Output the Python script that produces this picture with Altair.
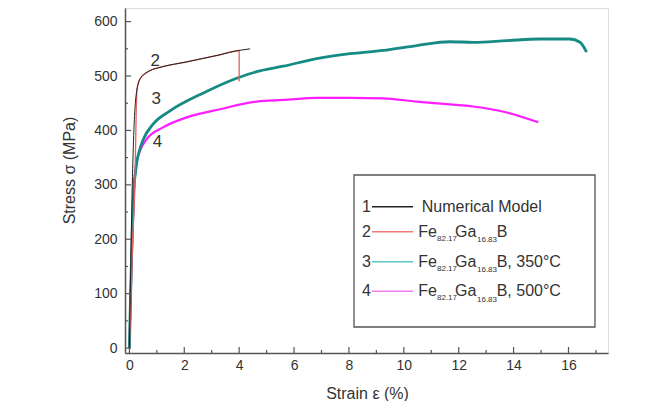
import altair as alt
import pandas as pd

# ---- data ----
model_x = [0, 0.12, 0.15, 0.18, 0.22, 0.27, 0.33, 0.42, 0.55, 0.75, 1.12, 2.09, 3.3, 4.0, 4.4]
model_y = [0, 330, 380, 420, 452, 474, 487, 497, 504, 510, 516, 526, 539, 547, 550]

base_x = [0, 0.12, 0.2, 0.23, 0.25, 0.28, 0.34, 0.45, 0.6, 0.8, 1.12, 2.09, 3.3, 4.0, 4.0]
base_y = [0, 200, 300, 380, 440, 475, 490, 499, 505, 511, 516, 526, 539, 547, 490]

t350_x = [0, 0.17, 0.22, 0.27, 0.36, 0.51, 0.87, 1.48, 2.7, 3.91, 4.64, 5.61, 6.83, 8.04,
          9.25, 10.47, 11.68, 12.53, 13.75, 14.96, 16.05, 16.42, 16.66]
t350_y = [0, 300, 322, 342, 362, 384, 412, 436, 469, 496, 508, 518, 532, 541,
          547, 556, 563, 562, 565, 568, 568, 562, 544]

t500_x = [0, 0.18, 0.22, 0.28, 0.38, 0.63, 1.24, 2.09, 3.3, 4.64, 5.61, 6.83, 8.04,
          9.25, 10.47, 11.68, 12.53, 13.75, 14.9]
t500_y = [0, 300, 328, 346, 362, 384, 406, 424, 439, 453, 456, 460, 460,
          459, 453, 448, 444, 433, 415]

curve_label = ["2", "3", "4"]
curve_label_x = [0.94, 0.98, 1.02]
curve_label_y = [528, 458, 378]

x_major = [0, 2, 4, 6, 8, 10, 12, 14, 16]
x_minor = [1, 3, 5, 7, 9, 11, 13, 15, 17]
y_major = [0, 100, 200, 300, 400, 500, 600]
y_minor = [50, 150, 250, 350, 450, 550]

legend_num = ["1", "2", "3", "4"]
legend_suffix = ["", "B", "B, 350°C", "B, 500°C"]

# ---- build tables ----
rows = []
for name, xs_, ys_ in [("model", model_x, model_y), ("base", base_x, base_y),
                       ("t350", t350_x, t350_y), ("t500", t500_x, t500_y)]:
    for i, (a, b) in enumerate(zip(xs_, ys_)):
        rows.append({"series": name, "x": a, "y": b, "i": i})
df = pd.DataFrame(rows)

W, H = 483, 345
FONT = "Liberation Sans"
TXT = "#333333"
FRAME = "#555555"

xs = alt.Scale(domain=[-0.16, 17.44], nice=False, zero=False)
ys = alt.Scale(domain=[-9, 625], nice=False, zero=False)

def curve(name, color, width, opacity=1.0):
    return alt.Chart(df).transform_filter(alt.datum.series == name).mark_line(
        color=color, strokeWidth=width, opacity=opacity, interpolate="monotone"
    ).encode(
        x=alt.X("x:Q", scale=xs, axis=alt.Axis(
            values=x_major, ticks=False, domain=True, domainColor=FRAME, domainWidth=1.5,
            grid=False,
            labelFont=FONT, labelFontSize=14, labelColor=TXT, labelPadding=5,
            title="Strain ε  (%)", titleFont=FONT, titleFontSize=16,
            titleFontWeight="normal", titleColor=TXT,
            titleX=242, titleY=40, titleBaseline="middle")),
        y=alt.Y("y:Q", scale=ys, axis=alt.Axis(
            values=y_major, ticks=False, domain=True, domainColor=FRAME, domainWidth=1.5,
            grid=False,
            labelFont=FONT, labelFontSize=14, labelColor=TXT, labelPadding=8,
            title="Stress σ (MPa)", titleFont=FONT, titleFontSize=16,
            titleFontWeight="normal", titleColor=TXT,
            titleX=-56, titleY=162, titleBaseline="middle", titleAngle=-90)),
        order="i:Q",
    )

layers = [
    curve("t500", "#ff1eff", 2.2),
    curve("t350", "#168a84", 2.8),
    curve("base", "#e8605a", 1.3),
    curve("model", "#222222", 1.0),
]

lab_df = pd.DataFrame({"t": curve_label, "x": curve_label_x, "y": curve_label_y})
layers.append(alt.Chart(lab_df).mark_text(
    font=FONT, fontSize=17, color=TXT, align="center", baseline="middle"
).encode(x=alt.X("x:Q", scale=xs), y=alt.Y("y:Q", scale=ys), text="t:N"))

# inward ticks
layers.append(alt.Chart(pd.DataFrame({"v": x_major})).mark_rule(color=FRAME, strokeWidth=1.2).encode(
    x=alt.X("v:Q", scale=xs), y=alt.value(H), y2=alt.value(H - 6)))
layers.append(alt.Chart(pd.DataFrame({"v": x_minor})).mark_rule(color=FRAME, strokeWidth=1.2).encode(
    x=alt.X("v:Q", scale=xs), y=alt.value(H), y2=alt.value(H - 3)))
layers.append(alt.Chart(pd.DataFrame({"v": y_major})).mark_rule(color=FRAME, strokeWidth=1.2).encode(
    y=alt.Y("v:Q", scale=ys), x=alt.value(0), x2=alt.value(6)))
layers.append(alt.Chart(pd.DataFrame({"v": y_minor})).mark_rule(color=FRAME, strokeWidth=1.2).encode(
    y=alt.Y("v:Q", scale=ys), x=alt.value(0), x2=alt.value(3)))

# legend box
layers.append(alt.Chart(pd.DataFrame({"a": [0]})).mark_rect(
    fill="white", stroke=FRAME, strokeWidth=1.3
).encode(x=alt.value(229), x2=alt.value(470), y=alt.value(167), y2=alt.value(319)))

leg_y = [198.7, 223.7, 253.7, 283.3]
leg_colors = ["#222222", "#f07878", "#5cc4c4", "#f07cf0"]
for k in range(4):
    yy = leg_y[k]
    d = pd.DataFrame({"t": [legend_num[k]]})
    layers.append(alt.Chart(d).mark_text(font=FONT, fontSize=16, color=TXT, align="center",
                                         baseline="middle").encode(
        x=alt.value(241.5), y=alt.value(yy), text="t:N"))
    layers.append(alt.Chart(d).mark_rule(color=leg_colors[k], strokeWidth=1.5).encode(
        x=alt.value(247), x2=alt.value(288), y=alt.value(yy)))
    if k == 0:
        layers.append(alt.Chart(pd.DataFrame({"t": ["Numerical Model"]})).mark_text(
            font=FONT, fontSize=16, color=TXT, align="left", baseline="middle").encode(
            x=alt.value(296.7), y=alt.value(yy), text="t:N"))
    else:
        parts = [("Fe", 293.3, 0, 16), ("82.17", 312, 7, 8), ("Ga", 330, 0, 16),
                 ("16.83", 352, 8.5, 8), (legend_suffix[k], 371.7, 0, 16)]
        for txt, px, dy, fs in parts:
            layers.append(alt.Chart(pd.DataFrame({"t": [txt]})).mark_text(
                font=FONT, fontSize=fs, color=TXT, align="left", baseline="middle").encode(
                x=alt.value(px), y=alt.value(yy + dy), text="t:N"))

chart = alt.layer(*layers).properties(
    width=W, height=H,
    autosize=alt.AutoSizeParams(type="none"),
    padding={"left": 117, "top": 0, "right": 34, "bottom": 48},
).configure_view(stroke=FRAME, strokeWidth=1.5).configure(background="white")

chart.save("out.html", embed_options={"renderer": "svg", "actions": False})
